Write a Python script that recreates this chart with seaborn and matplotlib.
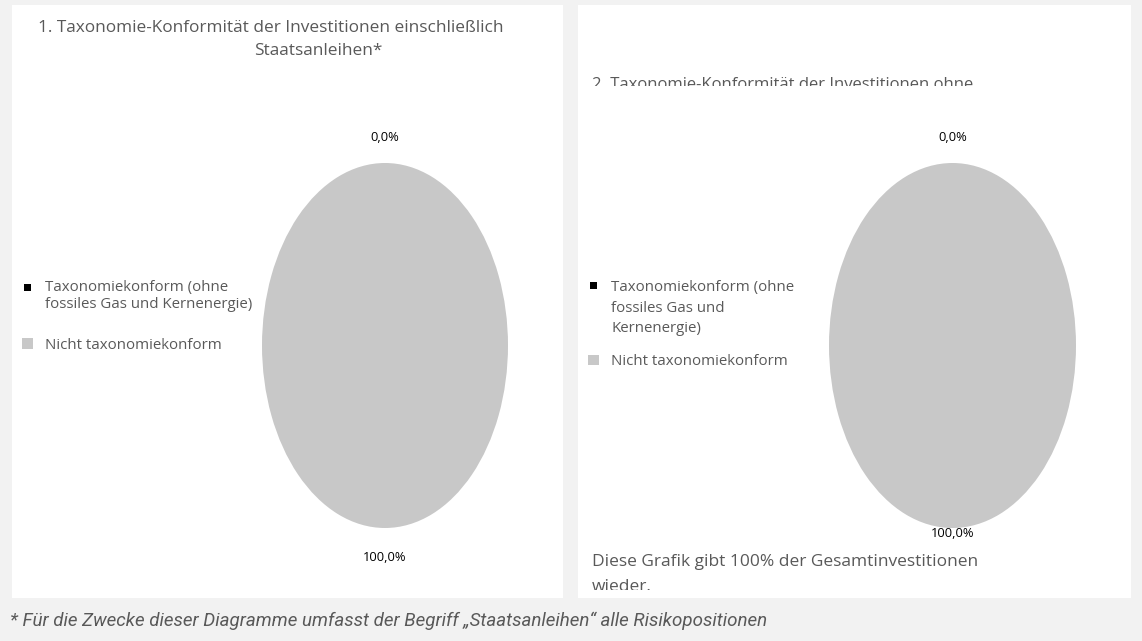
import matplotlib
matplotlib.use("Agg")
import matplotlib.pyplot as plt
import seaborn as sns
from matplotlib.patches import Rectangle

sns.set_theme(style="white")
plt.rcParams["font.family"] = ["Open Sans", "DejaVu Sans"]

categories = ["Taxonomiekonform (ohne fossiles Gas und Kernenergie)", "Nicht taxonomiekonform"]
values_with_bonds = [0.0, 100.0]
values_without_bonds = [0.0, 100.0]
legend_left = ["Taxonomiekonform (ohne\nfossiles Gas und Kernenergie)", "Nicht taxonomiekonform"]
legend_right = ["Taxonomiekonform (ohne\nfossiles Gas und\nKernenergie)", "Nicht taxonomiekonform"]
colors = ["#000000", "#c8c8c8"]
text_grey = "#595959"
bg_grey = "#f2f2f2"

W, H = 1142, 641
fig = plt.figure(figsize=(W / 100, H / 100), dpi=100)
fig.patch.set_facecolor(bg_grey)


def fx(x):
    return x / W


def fy(y):
    return 1 - y / H


def add_rect(x0, y0, x1, y1, color, z):
    fig.patches.append(Rectangle((fx(x0), fy(y1)), fx(x1) - fx(x0), fy(y0) - fy(y1),
                                 transform=fig.transFigure, facecolor=color,
                                 edgecolor="none", zorder=z))


# white panels
add_rect(12, 5, 563, 598, "white", -1)
add_rect(578, 5, 1131, 598, "white", -1)


def fmt(p):
    return f"{p:.1f}%".replace(".", ",")


def draw_pie(x0, x1, y0, y1, values, top_dist, bottom_dist):
    ax = fig.add_axes([fx(x0), fy(y1), fx(x1) - fx(x0), fy(y0) - fy(y1)])
    ax.patch.set_alpha(0)
    wedges, _, autotexts = ax.pie(values, colors=colors, startangle=90, counterclock=False,
                                  autopct=fmt, pctdistance=1.14,
                                  wedgeprops=dict(linewidth=0),
                                  textprops=dict(fontsize=9.3, color="#000000"))
    ax.set_aspect("auto")
    ax.set_xlim(-1, 1)
    ax.set_ylim(-1, 1)
    ax.axis("off")
    # Excel puts the labels at slightly different distances
    autotexts[0].set_position((0, top_dist))
    autotexts[1].set_position((0, -bottom_dist))
    for t in autotexts:
        t.set_clip_on(False)
    return wedges


wedges_l = draw_pie(262, 508, 163, 528, values_with_bonds, 1.14, 1.16)
wedges_r = draw_pie(829, 1076, 163, 528, values_without_bonds, 1.14, 1.03)

# legends
fs = 10.8
for wedges, labels, x, y, lsp, gap, nlines in [
        (wedges_l, legend_left, 22, 280, 1.2, 1.7, 2),
        (wedges_r, legend_right, 588, 280, 1.5, 1.2, 3)]:
    leg = fig.legend(wedges, labels, loc="upper left", bbox_to_anchor=(fx(x), fy(y)),
                     frameon=False, fontsize=fs, labelcolor=text_grey,
                     handlelength=0.7, handleheight=0.7, handletextpad=0.85,
                     labelspacing=gap, borderpad=0, borderaxespad=0)
    for t in leg.get_texts():
        t.set_linespacing(lsp)
    # black marker is smaller and sits on the first text line
    h = leg.legend_handles[0]
    full = 0.7 * fs
    small = 5.0
    h.set_width(small)
    h.set_height(small)
    h.set_x(h.get_x() + (full - small) / 2)
    h.set_y(h.get_y() + (full - small) / 2 + fs * lsp * (nlines - 1) / 2)

# titles
fig.text(fx(38), fy(32), "1. Taxonomie-Konformität der Investitionen einschließlich",
         fontsize=12.4, color=text_grey, va="baseline", ha="left")
fig.text(fx(254), fy(55), "Staatsanleihen*", fontsize=12.4, color=text_grey, va="baseline", ha="left")

fig.text(fx(592), fy(89), "2. Taxonomie-Konformität der Investitionen ohne",
         fontsize=12, color=text_grey, va="baseline", ha="left", zorder=3)
# title is cut off by the plot area in the original
add_rect(578, 86, 1131, 120, "white", 5)

fig.text(fx(592), fy(566), "Diese Grafik gibt 100% der Gesamtinvestitionen",
         fontsize=12.5, color=text_grey, va="baseline", ha="left", zorder=3)
fig.text(fx(592), fy(591), "wieder.",
         fontsize=12.5, color=text_grey, va="baseline", ha="left", zorder=3)
# second line is cut off by the text box in the original
add_rect(578, 590, 1131, 598, "white", 5)

# footnote
fig.text(fx(10), fy(621), "* Für die Zwecke dieser Diagramme umfasst der Begriff \u201eStaatsanleihen\u201c alle Risikopositionen",
         fontsize=13.5, style="italic", color=text_grey, va="center", ha="left",
         family=["Roboto", "DejaVu Sans"])

fig.savefig("out.png", dpi=100, facecolor=fig.get_facecolor())
